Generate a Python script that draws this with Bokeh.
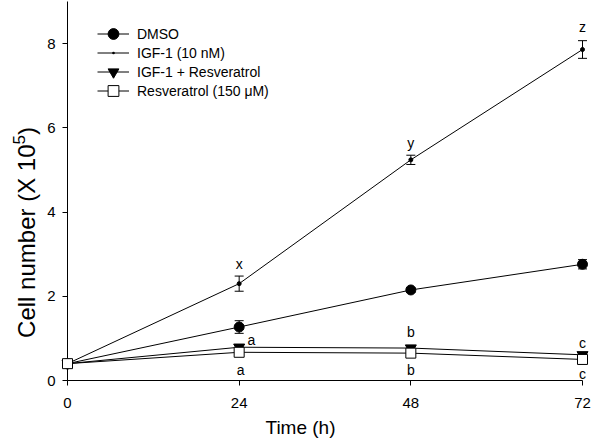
import math
from bokeh.plotting import figure
from bokeh.models import Legend, LegendItem, FixedTicker, ColumnDataSource, Range1d
from bokeh.core.properties import value
from bokeh.embed import file_html
from bokeh.resources import INLINE

# ---- data ----
time_h = [0, 24, 48, 72]
dmso = [0.40, 1.27, 2.15, 2.76]
dmso_err = [0.03, 0.15, 0.06, 0.11]
igf = [0.40, 2.30, 5.24, 7.86]
igf_err = [0.03, 0.18, 0.11, 0.21]
igf_res = [0.40, 0.79, 0.77, 0.61]
igf_res_err = [0.02, 0.04, 0.04, 0.04]
res = [0.40, 0.67, 0.65, 0.50]
res_err = [0.02, 0.04, 0.04, 0.04]

series_names = ["DMSO", "IGF-1 (10 nM)", "IGF-1 + Resveratrol", "Resveratrol (150 \u03bcM)"]

letters = ["x", "y", "z", "a", "a", "b", "b", "c", "c"]
letter_x = [24, 48, 72, 25.7, 24.2, 48, 48, 72, 72]
letter_y = [2.77, 5.64, 8.39, 0.95, 0.25, 1.16, 0.25, 0.89, 0.16]

x_ticks = [0, 24, 48, 72]
y_ticks = [0, 2, 4, 6, 8]
x_title = "Time (h)"
y_title_main = "Cell number (X 10"
y_title_sup = "5"
y_title_end = ")"

FONT = "Liberation Sans"
INK = "#000000"

W, H = 600, 444
BL, BR, BT, BB = 67, 18, 1, 64
X0, X1, Y0, Y1 = 0, 72, 0, 9
p = figure(width=W, height=H, output_backend="svg", toolbar_location=None,
           x_range=Range1d(X0, X1), y_range=Range1d(Y0, Y1),
           min_border_left=BL, min_border_right=BR, min_border_top=BT,
           min_border_bottom=BB)
p.outline_line_color = None
p.xgrid.visible = False
p.ygrid.visible = False
p.background_fill_color = "white"

# pixel <-> data helpers (for placing the axis titles outside the frame)
px_x = (W - BL - BR) / (X1 - X0)
px_y = (H - BT - BB) / (Y1 - Y0)


def sx(px):
    return X0 + (px - BL) / px_x


def sy(py):
    return Y0 + (H - BB - py) / px_y


for ax in (p.xaxis[0], p.yaxis[0]):
    ax.axis_line_color = INK
    ax.major_tick_line_color = INK
    ax.major_tick_out = 5
    ax.major_tick_in = 0
    ax.minor_tick_line_color = None
    ax.major_label_text_font = FONT
    ax.major_label_text_font_size = "15px"
    ax.major_label_text_color = INK
p.xaxis.ticker = FixedTicker(ticks=x_ticks)
p.yaxis.ticker = FixedTicker(ticks=y_ticks)
p.xaxis.major_label_standoff = 12
p.yaxis.major_label_standoff = 7


def make_source(yvals, errs):
    return ColumnDataSource(dict(x=time_h, y=yvals,
                                 lo=[a - b for a, b in zip(yvals, errs)],
                                 hi=[a + b for a, b in zip(yvals, errs)]))


srcs = [make_source(dmso, dmso_err), make_source(igf, igf_err),
        make_source(igf_res, igf_res_err), make_source(res, res_err)]
s_dmso, s_igf, s_ir, s_res = srcs

lines = []
for s in srcs:
    r = p.line("x", "y", source=s, line_color=INK, line_width=1)
    r.level = "overlay"
    lines.append(r)

# error bars: vertical segment + horizontal caps
for s in srcs:
    seg = p.segment(x0="x", y0="lo", x1="x", y1="hi", source=s,
                    line_color=INK, line_width=1)
    cap_hi = p.scatter("x", "hi", source=s, marker="dash", size=9,
                       line_color=INK, line_width=1)
    cap_lo = p.scatter("x", "lo", source=s, marker="dash", size=9,
                       line_color=INK, line_width=1)
    for r in (seg, cap_hi, cap_lo):
        r.level = "overlay"

m_dmso = p.scatter("x", "y", source=s_dmso, marker="circle", size=10,
                   fill_color=INK, line_color=INK)
m_igf = p.scatter("x", "y", source=s_igf, marker="circle", size=4,
                  fill_color=INK, line_color=INK)
m_igf_dot = p.scatter("x", "y", source=s_igf, marker="dot", size=4,
                      fill_color=INK, line_color=INK)
m_ir = p.scatter("x", "y", source=s_ir, marker="inverted_triangle", size=11,
                 fill_color=INK, line_color=INK)
m_res = p.scatter("x", "y", source=s_res, marker="square", size=10,
                  fill_color="white", line_color=INK)
for r in (m_dmso, m_igf, m_igf_dot, m_ir, m_res):
    r.level = "overlay"

txt = p.text(x=letter_x, y=letter_y, text=letters, text_align="center",
             text_baseline="middle", text_font=value(FONT),
             text_font_size="14px", text_color=INK)
txt.level = "overlay"

# legends: one per entry so that the row pitch and marker size both match
legend_rows = [[lines[0], m_dmso], [lines[1], m_igf_dot],
               [lines[2], m_ir], [lines[3], m_res]]
first_center, pitch, gh = 33.3, 19, 27
for i, (name, rends) in enumerate(zip(series_names, legend_rows)):
    center = first_center + pitch * i
    bottom = (H - BB) - center - gh / 2
    lg = Legend(items=[LegendItem(label=name, renderers=rends)],
                location=(30, round(bottom)))
    lg.border_line_color = None
    lg.background_fill_alpha = 0
    lg.padding = 0
    lg.margin = 0
    lg.spacing = 0
    lg.glyph_width = 32
    lg.glyph_height = gh
    lg.label_height = gh
    lg.label_standoff = 8
    lg.label_text_font = FONT
    lg.label_text_font_size = "14px"
    lg.label_text_color = INK
    p.add_layout(lg)

# axis titles (drawn as text so the superscript can be reproduced)
XT_FS = 19
xt = p.text(x=[sx(300)], y=[sy(427)], text=[x_title], text_align="center",
            text_baseline="middle", text_font=value(FONT),
            text_font_size=f"{XT_FS}px", text_color=INK)
xt.level = "overlay"

ARIAL = {"C": 722, "e": 556, "l": 222, " ": 278, "n": 556, "u": 556, "m": 833,
         "b": 556, "r": 333, "(": 333, "X": 667, "1": 556, "0": 556, "5": 556,
         ")": 333}


def tw(s, fs):
    return sum(ARIAL.get(c, 556) for c in s) / 1000 * fs


YT_FS, SUP_FS = 24, 17
w_main = tw(y_title_main, YT_FS)
w_sup = tw(y_title_sup, SUP_FS)
w_end = tw(y_title_end, YT_FS)
total = w_main + w_sup + w_end
center_py, title_px = 232, 25.5
start_py = center_py + total / 2
yt_x = [sx(title_px), sx(title_px - 7), sx(title_px)]
yt_y = [sy(start_py), sy(start_py - w_main), sy(start_py - w_main - w_sup)]
for tx, ty, t, fs in zip(yt_x, yt_y, [y_title_main, y_title_sup, y_title_end],
                         [YT_FS, SUP_FS, YT_FS]):
    r = p.text(x=[tx], y=[ty], text=[t], angle=math.pi / 2, text_align="left",
               text_baseline="middle", text_font=value(FONT),
               text_font_size=f"{fs}px", text_color=INK)
    r.level = "overlay"

open("out.html", "w").write(file_html(p, INLINE))
